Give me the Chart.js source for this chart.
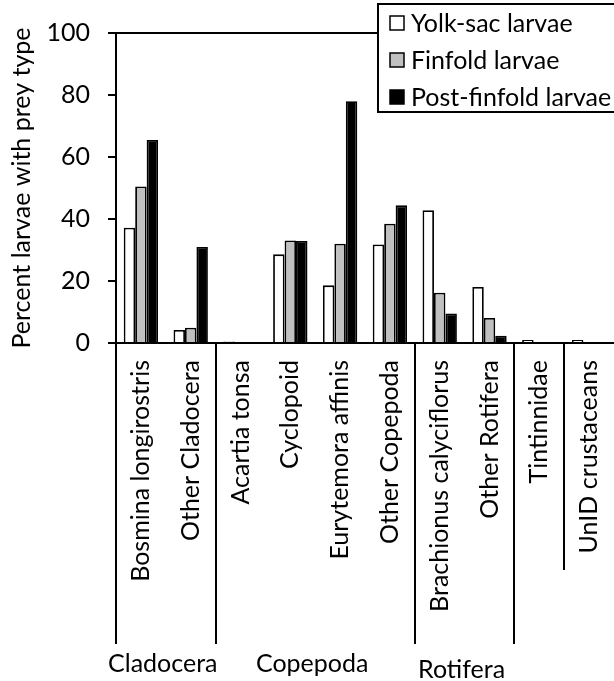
<!DOCTYPE html>
<html>
<head>
<meta charset="utf-8">
<script src="https://cdn.jsdelivr.net/npm/chart.js@4.4.0/dist/chart.umd.min.js"></script>
<style>
  body { margin: 0; background: #fff; }
  canvas { display: block; }
</style>
</head>
<body>
<canvas id="myChart" width="614" height="681"></canvas>
<script>
// prey categories along the x axis
const categories = [
  'Bosmina longirostris', 'Other Cladocera',
  'Acartia tonsa', 'Cyclopoid', 'Eurytemora affinis', 'Other Copepoda',
  'Brachionus calyciflorus', 'Other Rotifera',
  'Tintinnidae', 'UnID crustaceans'
];

// percent of larvae with prey type, per stage
const yolkSac     = [37.2, 4.2, 0.5, 28.6, 18.6, 31.8, 42.8, 18.1, 1.0, 1.0];
const finfold     = [50.5, 4.9, 0,   33.1, 32.0, 38.5, 16.2, 8.1,  0,   0];
const postFinfold = [65.5, 31.0, 0,  32.9, 78.0, 44.4, 9.5,  2.3,  0,   0];

const yTickLabels = [0, 20, 40, 60, 80, 100];

// taxon groups under the category labels (index ranges into categories)
const groupNames = ['Cladocera', 'Copepoda', 'Rotifera'];
const groupStart = [0, 2, 6];
const groupEnd   = [1, 5, 7];

const FONT = 'Lato';
const FS = 25;
Chart.defaults.font.family = FONT;
Chart.defaults.color = '#000';

// separators, group names, top line and boxed legend
const extras = {
  id: 'extras',
  afterDraw(chart) {
    const c = chart.ctx;
    const x = chart.scales.x;
    const y = chart.scales.y;
    const area = chart.chartArea;
    const half = (x.getPixelForValue(1) - x.getPixelForValue(0)) / 2;
    c.save();
    c.strokeStyle = '#000';
    c.lineWidth = 2;

    // vertical separators between groups
    const cuts = [[0, 644], [2, 644], [6, 644], [8, 644], [9, 570]];
    cuts.forEach(([i, end]) => {
      const px = Math.round(x.getPixelForValue(i) - half);
      c.beginPath();
      c.moveTo(px, area.bottom);
      c.lineTo(px, end);
      c.stroke();
    });

    // group names
    c.fillStyle = '#000';
    c.font = FS + 'px ' + FONT;
    c.textAlign = 'center';
    c.textBaseline = 'middle';
    const groupY = [664, 664, 670];
    groupNames.forEach((name, g) => {
      const a = x.getPixelForValue(groupStart[g]) - half;
      const b = x.getPixelForValue(groupEnd[g]) + half;
      c.fillText(name, (a + b) / 2 - 3, groupY[g]);
    });

    // legend box
    const lx = 378, ly = 4, lw = 240, lh = 108;
    c.strokeRect(lx, ly, lw, lh);

    // line across the top of the plot, up to the legend
    const top = Math.round(y.getPixelForValue(100));
    c.beginPath();
    c.moveTo(area.left - 8, top);
    c.lineTo(lx, top);
    c.stroke();

    c.textAlign = 'left';
    chart.data.datasets.forEach((ds, i) => {
      const cy = 23 + i * 37;
      c.fillStyle = ds.backgroundColor;
      c.fillRect(390, cy - 7, 14, 14);
      c.lineWidth = 1.5;
      c.strokeRect(390, cy - 7, 14, 14);
      c.fillStyle = '#000';
      c.fillText(ds.label, 411, cy + 1);
    });
    c.restore();
  }
};

const ctx = document.getElementById('myChart').getContext('2d');
ctx.textRendering = 'optimizeSpeed';
const myChart = new Chart(ctx, {
  type: 'bar',
  data: {
    labels: categories,
    datasets: [
      { label: 'Yolk-sac larvae', data: yolkSac, backgroundColor: '#ffffff' },
      { label: 'Finfold larvae', data: finfold, backgroundColor: '#c0c0c0' },
      { label: 'Post-finfold larvae', data: postFinfold, backgroundColor: '#000000' }
    ]
  },
  options: {
    responsive: false,
    animation: false,
    layout: { padding: { top: 32, right: 0, bottom: 0, left: 0 } },
    datasets: {
      bar: {
        borderColor: '#000',
        borderWidth: 1.8,
        categoryPercentage: 0.69,
        barPercentage: 1.0
      }
    },
    plugins: {
      legend: { display: false },
      tooltip: { enabled: false }
    },
    scales: {
      x: {
        afterFit(scale) {
          scale.height = 338;
          scale.paddingLeft = 0;
          scale.paddingRight = 0;
        },
        grid: { display: false, drawTicks: false },
        border: { display: true, color: '#000', width: 2 },
        ticks: {
          autoSkip: false,
          minRotation: 90,
          maxRotation: 90,
          padding: 17,
          font: { size: FS }
        }
      },
      y: {
        min: 0,
        max: 100,
        afterFit(scale) { scale.width = 116; },
        grid: { drawOnChartArea: false, drawTicks: true, tickLength: 8, color: '#000', lineWidth: 2 },
        border: { display: true, color: '#000', width: 2 },
        ticks: {
          stepSize: 10,
          padding: 18,
          font: { size: FS },
          callback: (v) => yTickLabels.includes(v) ? v : ''
        },
        title: {
          display: true,
          text: 'Percent larvae with prey type',
          font: { size: FS },
          padding: { top: 7, bottom: 0 }
        }
      }
    }
  },
  plugins: [extras]
});
</script>
</body>
</html>
